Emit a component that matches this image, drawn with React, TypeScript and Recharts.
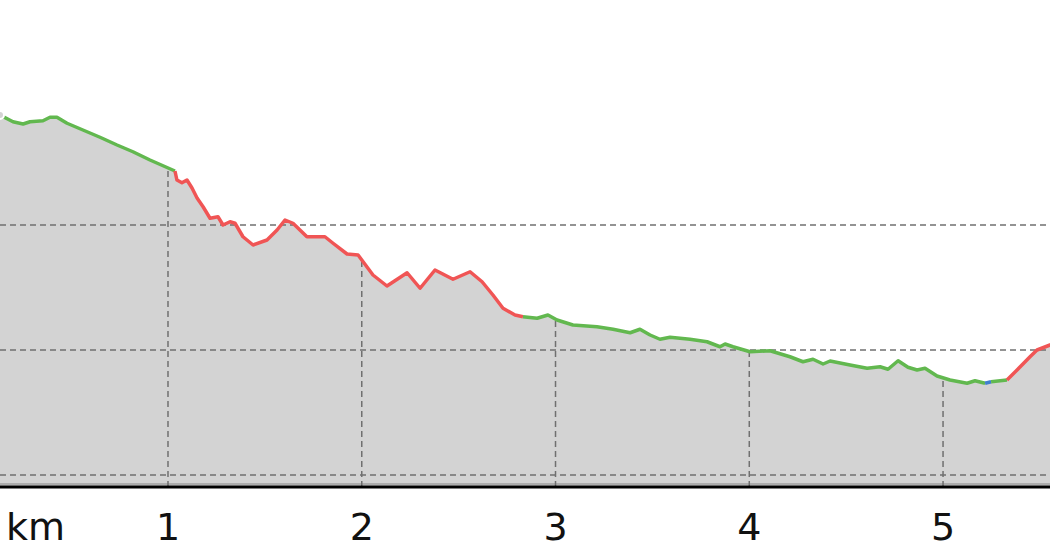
import React from 'react';
import { ComposedChart, Area, Line, XAxis, YAxis, ReferenceLine } from 'recharts';

// profile: distance (km) and elevation (m)
const distanceKm = [
  0.11, 0.133, 0.2, 0.252, 0.288, 0.355, 0.391, 0.427, 0.479, 0.561, 0.649, 0.737, 0.819, 0.907, 1.036,
  1.046, 1.072, 1.098, 1.124, 1.15, 1.181, 1.217, 1.258, 1.284, 1.32, 1.346, 1.387, 1.439, 1.511,
  1.563, 1.604, 1.645, 1.717, 1.759, 1.81, 1.852, 1.924, 1.981, 2.058, 2.13, 2.234, 2.301, 2.378,
  2.471, 2.559, 2.621, 2.677, 2.729, 2.791, 2.832, 2.905, 2.961, 3.008, 3.09, 3.214, 3.297, 3.385,
  3.436, 3.488, 3.539, 3.591, 3.694, 3.782, 3.849, 3.875, 3.916, 4.004, 4.107, 4.21, 4.277, 4.329,
  4.381, 4.417, 4.52, 4.608, 4.675, 4.716, 4.768, 4.819, 4.866, 4.907, 4.969, 5.036, 5.124, 5.165,
  5.217, 5.248, 5.33, 5.382, 5.449, 5.485, 5.552, 5.58,
];
const elevationM = [
  244.8, 244.0, 241.3, 240.4, 241.3, 241.7, 243.1, 243.1, 240.7, 238.0, 235.1, 232.0, 229.3, 226.0, 221.6,
  218.0, 216.9, 218.0, 214.8, 210.8, 207.3, 202.7, 203.3, 200.0, 201.3, 200.7, 195.3, 192.0, 194.0,
  198.0, 202.0, 200.7, 195.3, 195.3, 195.3, 192.7, 188.4, 188.0, 180.0, 175.6, 180.9, 174.7, 182.0,
  178.3, 181.3, 177.3, 172.0, 166.7, 164.0, 163.3, 162.7, 164.0, 162.0, 160.0, 159.3, 158.3, 156.9,
  158.3, 156.0, 154.3, 155.1, 154.3, 153.3, 151.3, 152.4, 151.3, 149.3, 149.7, 147.3, 145.3, 146.3,
  144.4, 145.6, 144.0, 142.7, 143.3, 142.3, 145.7, 143.1, 142.0, 142.7, 139.6, 138.0, 136.7, 137.7,
  136.7, 137.3, 138.0, 142.0, 147.3, 150.0, 152.0, 153.0,
];

// coloured stretches of the line (km boundaries)
const segmentBreaks = [0.1, 1.036, 2.832, 5.217, 5.248, 5.33, 5.6];
const segmentColors = ['#62b84f', '#f05555', '#62b84f', '#3f7fcf', '#62b84f', '#f05555'];

const kmTicks = [1, 2, 3, 4, 5];
const elevGrid = [100, 150, 200];

const X_DOMAIN = [0.133, 5.552];
const Y_DOMAIN = [95.2, 290];

const rows = distanceKm.map((km, i) => {
  const row: Record<string, number | null> = { km, elev: elevationM[i] };
  segmentColors.forEach((_, s) => {
    const inside = km >= segmentBreaks[s] - 1e-9 && km <= segmentBreaks[s + 1] + 1e-9;
    row['s' + s] = inside ? elevationM[i] : null;
  });
  return row;
});

const elevAt = (km: number) => {
  for (let i = 1; i < distanceKm.length; i++) {
    if (km <= distanceKm[i]) {
      const t = (km - distanceKm[i - 1]) / (distanceKm[i] - distanceKm[i - 1]);
      return elevationM[i - 1] + t * (elevationM[i] - elevationM[i - 1]);
    }
  }
  return elevationM[elevationM.length - 1];
};

const FONT = '"DejaVu Sans", sans-serif';
const GRID = { stroke: '#707070', strokeWidth: 1.5, strokeDasharray: '6 4' };

export default function App() {
  return (
    <div style={{ position: 'absolute', left: 0, top: 0, width: 1050, height: 560, background: '#fff' }}>
      <ComposedChart width={1050} height={560} data={rows} margin={{ top: 0, right: 0, bottom: 0, left: 0 }}>
        <XAxis
          dataKey="km"
          type="number"
          domain={X_DOMAIN}
          allowDataOverflow
          ticks={kmTicks}
          height={73}
          axisLine={{ stroke: '#000', strokeWidth: 3 }}
          tickLine={false}
          tickMargin={20}
          tick={{ fill: '#111', fontSize: 38, fontFamily: FONT }}
          label={{
            content: () => (
              <text x={6} y={540} fill="#111" fontSize={38} fontFamily={FONT}>
                km
              </text>
            ),
          }}
        />
        <YAxis hide type="number" domain={Y_DOMAIN} allowDataOverflow />
        <Area
          dataKey="elev"
          type="linear"
          stroke="none"
          fill="#d3d3d3"
          fillOpacity={1}
          isAnimationActive={false}
        />
        <ReferenceLine y={96.4} stroke="#a0a0a0" strokeWidth={1.5} />
        {elevGrid.map((v) => (
          <ReferenceLine key={'h' + v} y={v} {...GRID} />
        ))}
        {kmTicks.map((k) => (
          <ReferenceLine
            key={'v' + k}
            segment={[
              { x: k, y: Y_DOMAIN[0] },
              { x: k, y: elevAt(k) },
            ]}
            {...GRID}
          />
        ))}
        {segmentColors.map((c, s) => (
          <Line
            key={'s' + s}
            dataKey={'s' + s}
            type="linear"
            stroke={c}
            strokeWidth={3.5}
            strokeLinejoin="round"
            dot={false}
            activeDot={false}
            connectNulls={false}
            isAnimationActive={false}
          />
        ))}
      </ComposedChart>
    </div>
  );
}
